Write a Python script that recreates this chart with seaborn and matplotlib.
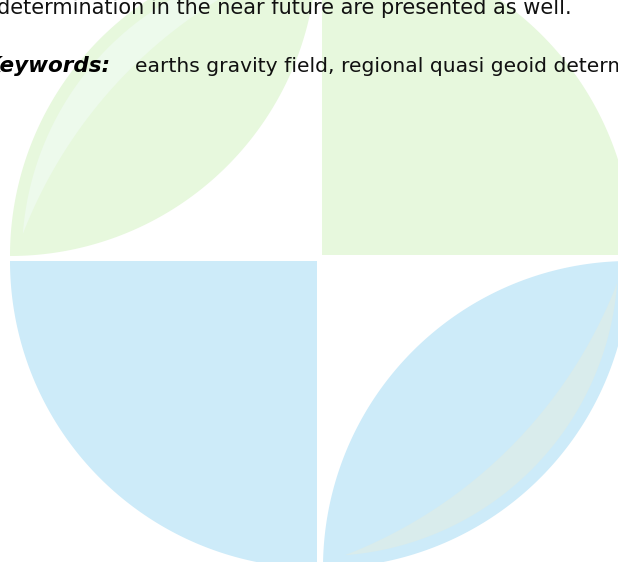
import numpy as np
import matplotlib
matplotlib.use("Agg")
import matplotlib.pyplot as plt
from matplotlib.patches import Polygon
import seaborn as sns

# text shown on the page
line_one = "determination in the near future are presented as well."
keyword_label = "Keywords:"
keyword_text = "earths gravity field, regional quasi geoid determination"

# the four parts of the watermark logo
quadrants = ["top-left", "top-right", "bottom-left", "bottom-right"]
shapes = ["leaf", "quarter", "quarter", "leaf"]
tints = ["green", "green", "blue", "blue"]
streaks = ["light", None, None, "grey"]

# layout (pixels, y pointing down)
W, H = 618, 562
corner = {"top-left": (317, 256), "top-right": (322, 255),
          "bottom-left": (317, 261), "bottom-right": (323, 261)}
direction = {"top-left": (-1, -1), "top-right": (1, -1),
             "bottom-left": (-1, 1), "bottom-right": (1, 1)}
radius = {"top-left": 307, "top-right": 311, "bottom-left": 307, "bottom-right": 307}
palette = {"green": "#e7f8dd", "blue": "#cdebf9",
           "light": "#edfaec", "grey": "#d9ecec"}


def arc(cx, cy, r, t0, t1, sx, sy, n=200):
    t = np.linspace(t0, t1, n)
    return np.column_stack([cx + sx * r * np.cos(t), cy + sy * r * np.sin(t)])


def to_page(local, c, s):
    return np.column_stack([c[0] + s[0] * local[:, 0], c[1] + s[1] * local[:, 1]])


def quarter(c, s, r):
    pts = np.vstack([[0, 0], arc(0, 0, r, 0, np.pi / 2, 1, 1)])
    return to_page(pts, c, s)


def leaf(c, s, r):
    outer = arc(0, 0, r, 0, np.pi / 2, 1, 1)
    inner = arc(r, r, r, 0, np.pi / 2, -1, -1)
    return to_page(np.vstack([outer, inner]), c, s)


def streak(c, s, r):
    # band running along the outer edge of a leaf
    r1 = r - 12
    a0 = np.arctan2(22, r1 - 1)
    p = (r1 * np.cos(a0), r1 * np.sin(a0))
    outer = arc(0, 0, r1, a0, np.pi / 2 - a0, 1, 1)
    ctr = -150
    r2 = np.hypot(p[0] - ctr, p[1] - ctr)
    b0 = np.arctan2(p[1] - ctr, p[0] - ctr)
    inner = arc(ctr, ctr, r2, np.pi / 2 - b0, b0, 1, 1)
    return to_page(np.vstack([outer, inner]), c, s)


sns.set_theme(style="white")
plt.rcParams["font.family"] = ["DejaVu Sans"]

fig = plt.figure(figsize=(W / 100, H / 100), dpi=100)
ax = fig.add_axes([0, 0, 1, 1])
ax.set_xlim(0, W)
ax.set_ylim(H, 0)
ax.set_axis_off()

for q, shape, tint, st in zip(quadrants, shapes, tints, streaks):
    c, s, r = corner[q], direction[q], radius[q]
    pts = leaf(c, s, r) if shape == "leaf" else quarter(c, s, r)
    ax.add_patch(Polygon(pts, closed=True, facecolor=palette[tint],
                         edgecolor="none", zorder=1))
    if st is not None:
        ax.add_patch(Polygon(streak(c, s, r), closed=True,
                             facecolor=palette[st], edgecolor="none", zorder=2))

renderer = fig.canvas.get_renderer()


def fit(txt, width):
    bb = txt.get_window_extent(renderer)
    txt.set_fontsize(txt.get_fontsize() * width / bb.width)


t1 = ax.text(572, 14, line_one, ha="right", va="baseline", fontsize=14,
             color="#111111", zorder=5)
fit(t1, 576)

probe = ax.text(135, 72, "earths gravity field, regional quasi geoid", ha="left",
                va="baseline", fontsize=14, color="#111111", zorder=5)
fit(probe, 412)
size = probe.get_fontsize()
probe.remove()
ax.text(135, 72, keyword_text, ha="left", va="baseline", fontsize=size,
        color="#111111", zorder=5)

kw = ax.text(111, 72, keyword_label, ha="right", va="baseline", fontsize=size,
             fontweight="bold", fontstyle="italic", color="#000000", zorder=5)
fit(kw, 126)

fig.savefig("out.png", dpi=100, facecolor="white")
